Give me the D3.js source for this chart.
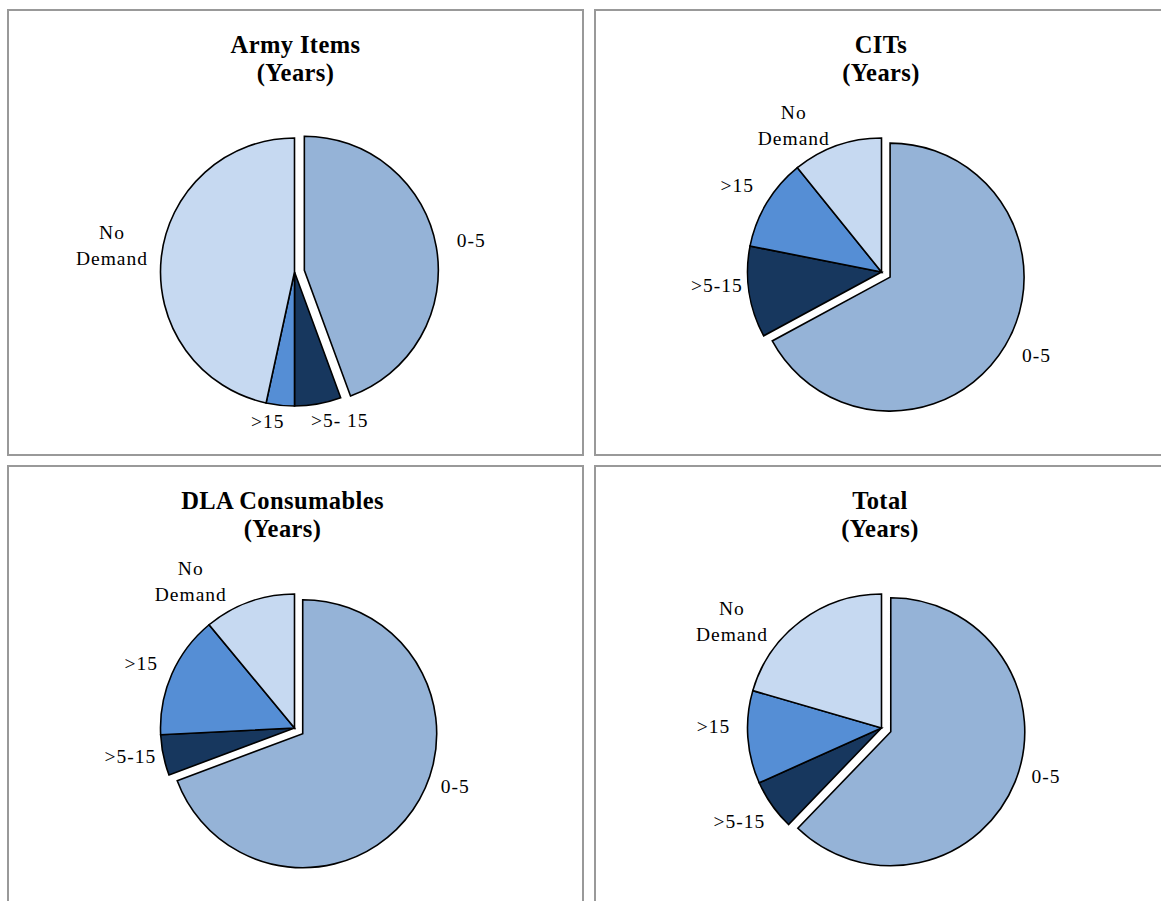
<!DOCTYPE html>
<html>
<head>
<meta charset="utf-8">
<script src="https://cdn.jsdelivr.net/npm/d3@7"></script>
<style>
  html, body { margin: 0; padding: 0; background: #ffffff; overflow: hidden; }
  svg { display: block; }
</style>
</head>
<body>
<svg id="chart" width="1161" height="901"></svg>
<script>
// ---------- DATA ----------
const categories = ["0-5", ">5-15", ">15", "No Demand"];
const chartTitles = ["Army Items", "CITs", "DLA Consumables", "Total"];
const titleSubtitle = "(Years)";
const armyLabels  = ["0-5", ">5- 15", ">15", "No Demand"];
const otherLabels = ["0-5", ">5-15", ">15", "No Demand"];
const armyValues  = [44.4, 5.6, 3.4, 46.6];
const citsValues  = [67.1, 11.0, 11.1, 10.8];
const dlaValues   = [69.3, 4.9, 14.8, 11.0];
const totalValues = [62.2, 6.1, 11.2, 20.5];

// ---------- LAYOUT / STYLE ----------
const sliceColors = ["#95B3D7", "#17375E", "#558ED5", "#C6D9F1"];
const panelW = 575, panelH = 445;
const panelOrigins = [[8, 10], [595, 10], [8, 466], [595, 466]];
const titleDx = [0, -1.5, -13, -2.5];
// label nudges (Excel best-fit placement) relative to the arc label centroid
const labelNudges = [
  [[2, 0], [16, -16], [-9, -17], [-16, -9]],
  [[2.5, -7], [1, -12], [-1, 0], [-32, 11]],
  [[15, -43], [0, -5], [0, 2.5], [-47, 11]],
  [[0, -18], [-5, -3], [-1, -13.5], [-49, 27]]
];
const radius = 134;
const explode = 10;
const labelRadius = radius * 1.25;

const charts = [
  { title: chartTitles[0], values: armyValues,  labels: armyLabels },
  { title: chartTitles[1], values: citsValues,  labels: otherLabels },
  { title: chartTitles[2], values: dlaValues,   labels: otherLabels },
  { title: chartTitles[3], values: totalValues, labels: otherLabels }
];

const svg = d3.select("#chart");
const color = d3.scaleOrdinal().domain(categories).range(sliceColors);
const pie = d3.pie().sort(null).value(d => d.value).startAngle(0).endAngle(2 * Math.PI);
const arc = d3.arc().innerRadius(0).outerRadius(radius);
const labelArc = d3.arc().innerRadius(labelRadius).outerRadius(labelRadius);
const serif = "'Liberation Serif', 'Times New Roman', serif";

charts.forEach((c, ci) => {
  const [px, py] = panelOrigins[ci];
  const g = svg.append("g").attr("transform", `translate(${px},${py})`);

  g.append("rect")
    .attr("x", 0).attr("y", 0)
    .attr("width", panelW).attr("height", panelH)
    .attr("fill", "#ffffff")
    .attr("stroke", "#999999")
    .attr("stroke-width", 2);

  const tx = panelW / 2 + titleDx[ci];
  [c.title, titleSubtitle].forEach((line, li) => {
    g.append("text")
      .attr("x", tx)
      .attr("y", li === 0 ? 43 : 71)
      .attr("text-anchor", "middle")
      .attr("font-family", serif)
      .attr("font-weight", "bold")
      .attr("font-size", 24.5)
      .attr("letter-spacing", 0.4)
      .attr("fill", "#000")
      .text(line);
  });

  const cx = 286.5, cy = 262;
  const pg = g.append("g").attr("transform", `translate(${cx},${cy})`);

  const data = categories.map((k, i) => ({ key: k, value: c.values[i], label: c.labels[i] }));
  const arcs = pie(data);

  const offsetOf = (d, i) => {
    if (i !== 0) return [0, 0];
    const mid = (d.startAngle + d.endAngle) / 2;
    return [Math.sin(mid) * explode, -Math.cos(mid) * explode];
  };

  pg.selectAll("path.slice")
    .data(arcs)
    .join("path")
    .attr("class", "slice")
    .attr("d", arc)
    .attr("transform", (d, i) => {
      const [ox, oy] = offsetOf(d, i);
      return `translate(${ox},${oy})`;
    })
    .attr("fill", d => color(d.data.key))
    .attr("stroke", "#000")
    .attr("stroke-width", 1.6)
    .attr("stroke-linejoin", "miter");

  arcs.forEach((d, i) => {
    const [ox, oy] = offsetOf(d, i);
    const [lx, ly] = labelArc.centroid(d);
    const [nx, ny] = labelNudges[ci][i];
    const x = lx + ox + nx, y = ly + oy + ny;
    const words = d.data.label === "No Demand" ? ["No", "Demand"] : [d.data.label];
    const t = pg.append("text")
      .attr("text-anchor", "middle")
      .attr("font-family", serif)
      .attr("font-size", 19.5)
      .attr("letter-spacing", 1)
      .attr("fill", "#000");
    if (words.length === 1) {
      t.append("tspan").attr("x", x).attr("y", y + 6.5).text(words[0]);
    } else {
      t.append("tspan").attr("x", x).attr("y", y - 6.5).text(words[0]);
      t.append("tspan").attr("x", x).attr("y", y + 19.5).text(words[1]);
    }
  });
});
</script>
</body>
</html>
